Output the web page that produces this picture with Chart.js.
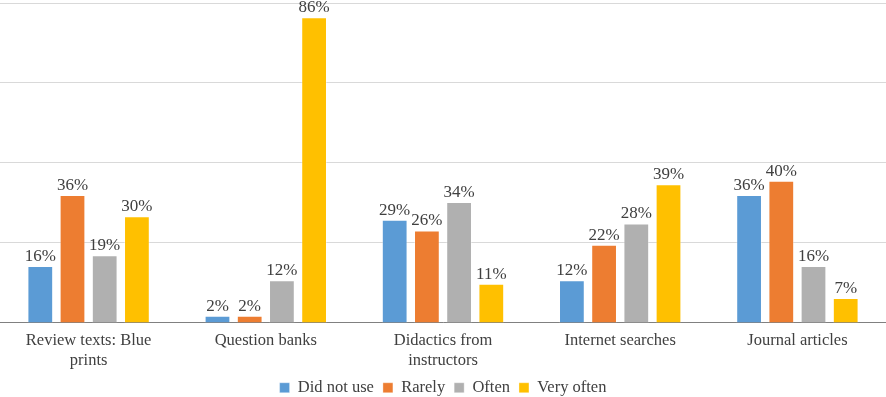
<!DOCTYPE html>
<html>
<head>
<meta charset="utf-8">
<script src="https://cdn.jsdelivr.net/npm/chart.js@4.4.1/dist/chart.umd.min.js"></script>
<style>
  html, body { margin: 0; padding: 0; background: #fff; }
  #wrap { width: 886px; height: 397px; }
</style>
</head>
<body>
<div id="wrap"><canvas id="chart"></canvas></div>
<script>
// categories and series values (percent)
const categories = [
    ['Review texts: Blue', 'prints'],
    'Question banks',
    ['Didactics from', 'instructors'],
    'Internet searches',
    'Journal articles'
];
const didNotUse = [16, 2, 29, 12, 36];
const rarely    = [36, 2, 26, 22, 40];
const often     = [19, 12, 34, 28, 16];
const veryOften = [30, 86, 11, 39, 7];

const serif = '"Liberation Serif", "Times New Roman", serif';

// draw the % labels above each bar
const barLabels = {
    id: 'barLabels',
    afterDatasetsDraw(chart) {
        let ctx = chart.ctx;
        ctx.save();
        ctx.font = '17px ' + serif;
        ctx.fillStyle = '#404040';
        ctx.textAlign = 'center';
        ctx.textBaseline = 'bottom';
        chart.data.datasets.forEach((ds, i) => {
            let meta = chart.getDatasetMeta(i);
            meta.data.forEach((bar, j) => {
                ctx.fillText(ds.data[j] + '%', bar.x, bar.y - 1);
            });
        });
        ctx.restore();
    }
};

function makeSet(label, data, color) {
    return {
        label: label,
        data: data,
        backgroundColor: color,
        borderColor: 'rgba(255,255,255,0.35)',
        borderWidth: 1,
        categoryPercentage: 0.727,
        barPercentage: 0.8
    };
}

let config = {
    type: 'bar',
    data: {
        labels: categories,
        datasets: [
            makeSet('Did not use', didNotUse, '#5B9BD5'),
            makeSet('Rarely', rarely, '#ED7D31'),
            makeSet('Often', often, '#B0B0B0'),
            makeSet('Very often', veryOften, '#FFC000')
        ]
    },
    options: {
        responsive: true,
        maintainAspectRatio: false,
        animation: false,
        layout: { padding: { top: 3, left: 0, right: 0, bottom: -9 } },
        plugins: {
            tooltip: { enabled: false },
            legend: {
                position: 'bottom',
                labels: {
                    boxWidth: 10,
                    boxHeight: 10,
                    padding: 9,
                    color: '#404040',
                    font: { family: serif, size: 16.5 }
                }
            }
        },
        scales: {
            x: {
                grid: { display: false },
                border: { display: true, color: '#808080', width: 1 },
                ticks: {
                    color: '#404040',
                    font: { family: serif, size: 16.5 },
                    padding: 0,
                    maxRotation: 0,
                    autoSkip: false
                }
            },
            y: {
                min: 0,
                max: 90,
                ticks: { display: false, stepSize: 22.5 },
                border: { display: false },
                grid: { color: '#D9D9D9', drawTicks: false }
            }
        }
    },
    plugins: [barLabels]
};

new Chart(document.getElementById('chart'), config);
</script>
</body>
</html>
